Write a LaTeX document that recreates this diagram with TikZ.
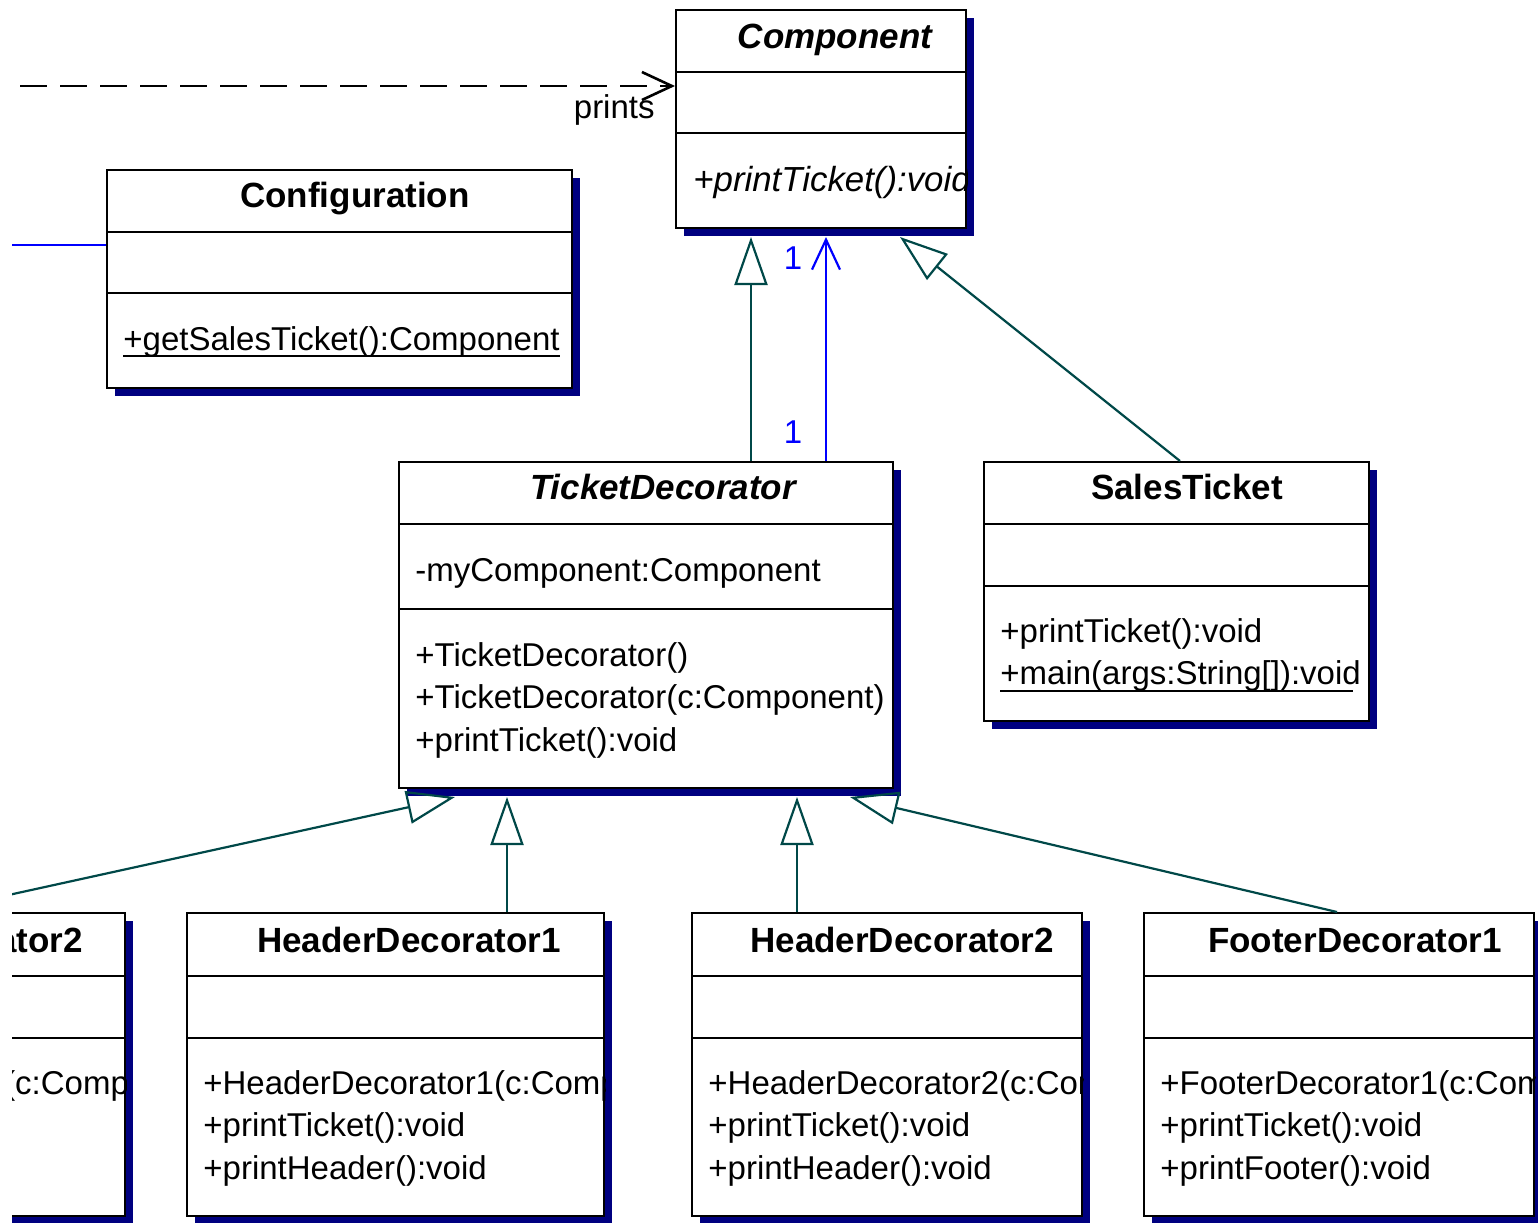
\documentclass[tikz,border=0pt]{standalone}
\usepackage{fontspec}
\setmainfont{Liberation Sans}
\usepackage{tikz}
\usetikzlibrary{arrows.meta,fit,calc}

\definecolor{shadownavy}{RGB}{0,0,128}
\definecolor{genteal}{RGB}{0,72,72}

% class box: name, left, top, right, bottom, first divider, second divider
\newcommand\umlclass[7]{%
  \fill[shadownavy] (#2+8,#3+8) rectangle (#4+8,#5+8);
  \node[class box, fit={(#2,#3) (#4,#5)}] (#1) {};
  \draw[class line] (#2,#6) -- (#4,#6) (#2,#7) -- (#4,#7);
  \coordinate (#1s) at ([yshift=-4pt]#1.south);
}

\begin{document}
\begin{tikzpicture}[x=0.5pt,y=-0.5pt]
\tikzset{
	class box/.style = {draw, line width=1pt, fill=white, inner sep=0},
	class line/.style = {line width=1pt},
	class title/.style = {anchor=base, inner sep=0, font=\fontsize{17.5}{21}\selectfont\bfseries},
	member/.style = {anchor=base west, inner sep=0, font=\fontsize{16.5}{20}\selectfont},
	static/.style = {line width=0.9pt},
	mult/.style = {anchor=base, inner sep=0, text=blue, font=\fontsize{16.5}{20}\selectfont},
	generalize/.style = {draw=genteal, line width=1.1pt, -{Triangle[open, length=24pt, width=16.5pt]}},
	assoc/.style = {draw=blue, line width=1.1pt},
	navigable/.style = {assoc, -{Straight Barb[length=15pt, width=14pt]}},
	depends/.style = {line width=1.3pt, dash pattern=on 13.5pt off 6.5pt, -{Straight Barb[length=15pt, width=14pt]}},
}
\useasboundingbox (0,0) rectangle (1538,1222);
\clip (12,0) rectangle (1538,1222);

% classes
\umlclass{comp}{676}{10}{966}{228}{72}{133}
\umlclass{config}{107}{170}{572}{388}{232}{293}
\umlclass{td}{399}{462}{893}{788}{524}{609}
\umlclass{sales}{984}{462}{1369}{721}{524}{586}
\umlclass{fd2}{-290}{913}{125}{1216}{976}{1038}
\umlclass{hd1}{187}{913}{604}{1216}{976}{1038}
\umlclass{hd2}{692}{913}{1082}{1216}{976}{1038}
\umlclass{fd1}{1144}{913}{1534}{1216}{976}{1038}

% texts
\begin{scope}
\clip (comp.north west) rectangle (comp.south east);
\node[class title] (comp-t) at (835,48) {\itshape Component};
\node[member, font=\fontsize{17.4}{20}\selectfont\itshape] (comp-m1) at (693,191) {+printTicket():void};
\end{scope}

\node[class title] (config-t) at (355,207) {Configuration};
\node[member] (config-m1) at (123,350) {+getSalesTicket():Component};
\draw[static] ([yshift=-3pt]config-m1.base west) -- ([yshift=-3pt]config-m1.base east);

\node[class title] (td-t) at (663,499) {\itshape TicketDecorator};
\node[member] (td-a1) at (415,581) {-myComponent:Component};
\node[member] (td-m1) at (415,666) {+TicketDecorator()};
\node[member] (td-m2) at (415,708) {+TicketDecorator(c:Component)};
\node[member] (td-m3) at (415,751) {+printTicket():void};

\node[class title] (sales-t) at (1187,499) {SalesTicket};
\node[member] (sales-m1) at (1000,642) {+printTicket():void};
\node[member] (sales-m2) at (1000,684) {+main(args:String[]):void};
\draw[static] ([yshift=-3.5pt]sales-m2.base west) -- ([yshift=-3.5pt,xshift=-4pt]sales-m2.base east);

\begin{scope}
\clip (fd2.north west) rectangle (fd2.south east);
\node[class title, anchor=base east] (fd2-t) at (83,952) {FooterDecorator2};
\node[member] (fd2-m1) at (-274,1094) {+FooterDecorator2(c:Component)};
\node[member] (fd2-m2) at (-274,1136) {+printTicket():void};
\node[member] (fd2-m3) at (-274,1179) {+printFooter():void};
\end{scope}

\begin{scope}
\clip (hd1.north west) rectangle (hd1.south east);
\node[class title] (hd1-t) at (409,952) {HeaderDecorator1};
\node[member] (hd1-m1) at (203,1094) {+HeaderDecorator1(c:Component)};
\node[member] (hd1-m2) at (203,1136) {+printTicket():void};
\node[member] (hd1-m3) at (203,1179) {+printHeader():void};
\end{scope}

\begin{scope}
\clip (hd2.north west) rectangle (hd2.south east);
\node[class title] (hd2-t) at (902,952) {HeaderDecorator2};
\node[member] (hd2-m1) at (708,1094) {+HeaderDecorator2(c:Component)};
\node[member] (hd2-m2) at (708,1136) {+printTicket():void};
\node[member] (hd2-m3) at (708,1179) {+printHeader():void};
\end{scope}

\begin{scope}
\clip (fd1.north west) rectangle (fd1.south east);
\node[class title] (fd1-t) at (1355,952) {FooterDecorator1};
\node[member] (fd1-m1) at (1160,1094) {+FooterDecorator1(c:Component)};
\node[member] (fd1-m2) at (1160,1136) {+printTicket():void};
\node[member] (fd1-m3) at (1160,1179) {+printFooter():void};
\end{scope}

% connectors
\coordinate (printsrc) at (-60,86);
\draw[depends] (printsrc) -- (printsrc -| comp.west);
\node[member, anchor=base east] (prints) at (655,118) {prints};

\coordinate (cfgsrc) at (-60,245);
\draw[assoc] (cfgsrc) -- (cfgsrc -| config.west);

\draw[generalize] (td.north -| 751,0) -- (comps -| 751,0);
\draw[navigable] (td.north -| 826,0) -- (comps -| 826,0);
\node[mult] (m-comp) at (793,269) {1};
\node[mult] (m-td) at (793,443) {1};
\draw[generalize] (sales.north -| 1180,0) -- (comps -| 900,0);

\draw[generalize] (fd2.north -| -69,0) -- (tds -| 455,0);
\draw[generalize] (hd1.north -| 507,0) -- (tds -| 507,0);
\draw[generalize] (hd2.north -| 797,0) -- (tds -| 797,0);
\draw[generalize] (fd1.north -| 1337,0) -- (tds -| 850,0);

\end{tikzpicture}
\end{document}
